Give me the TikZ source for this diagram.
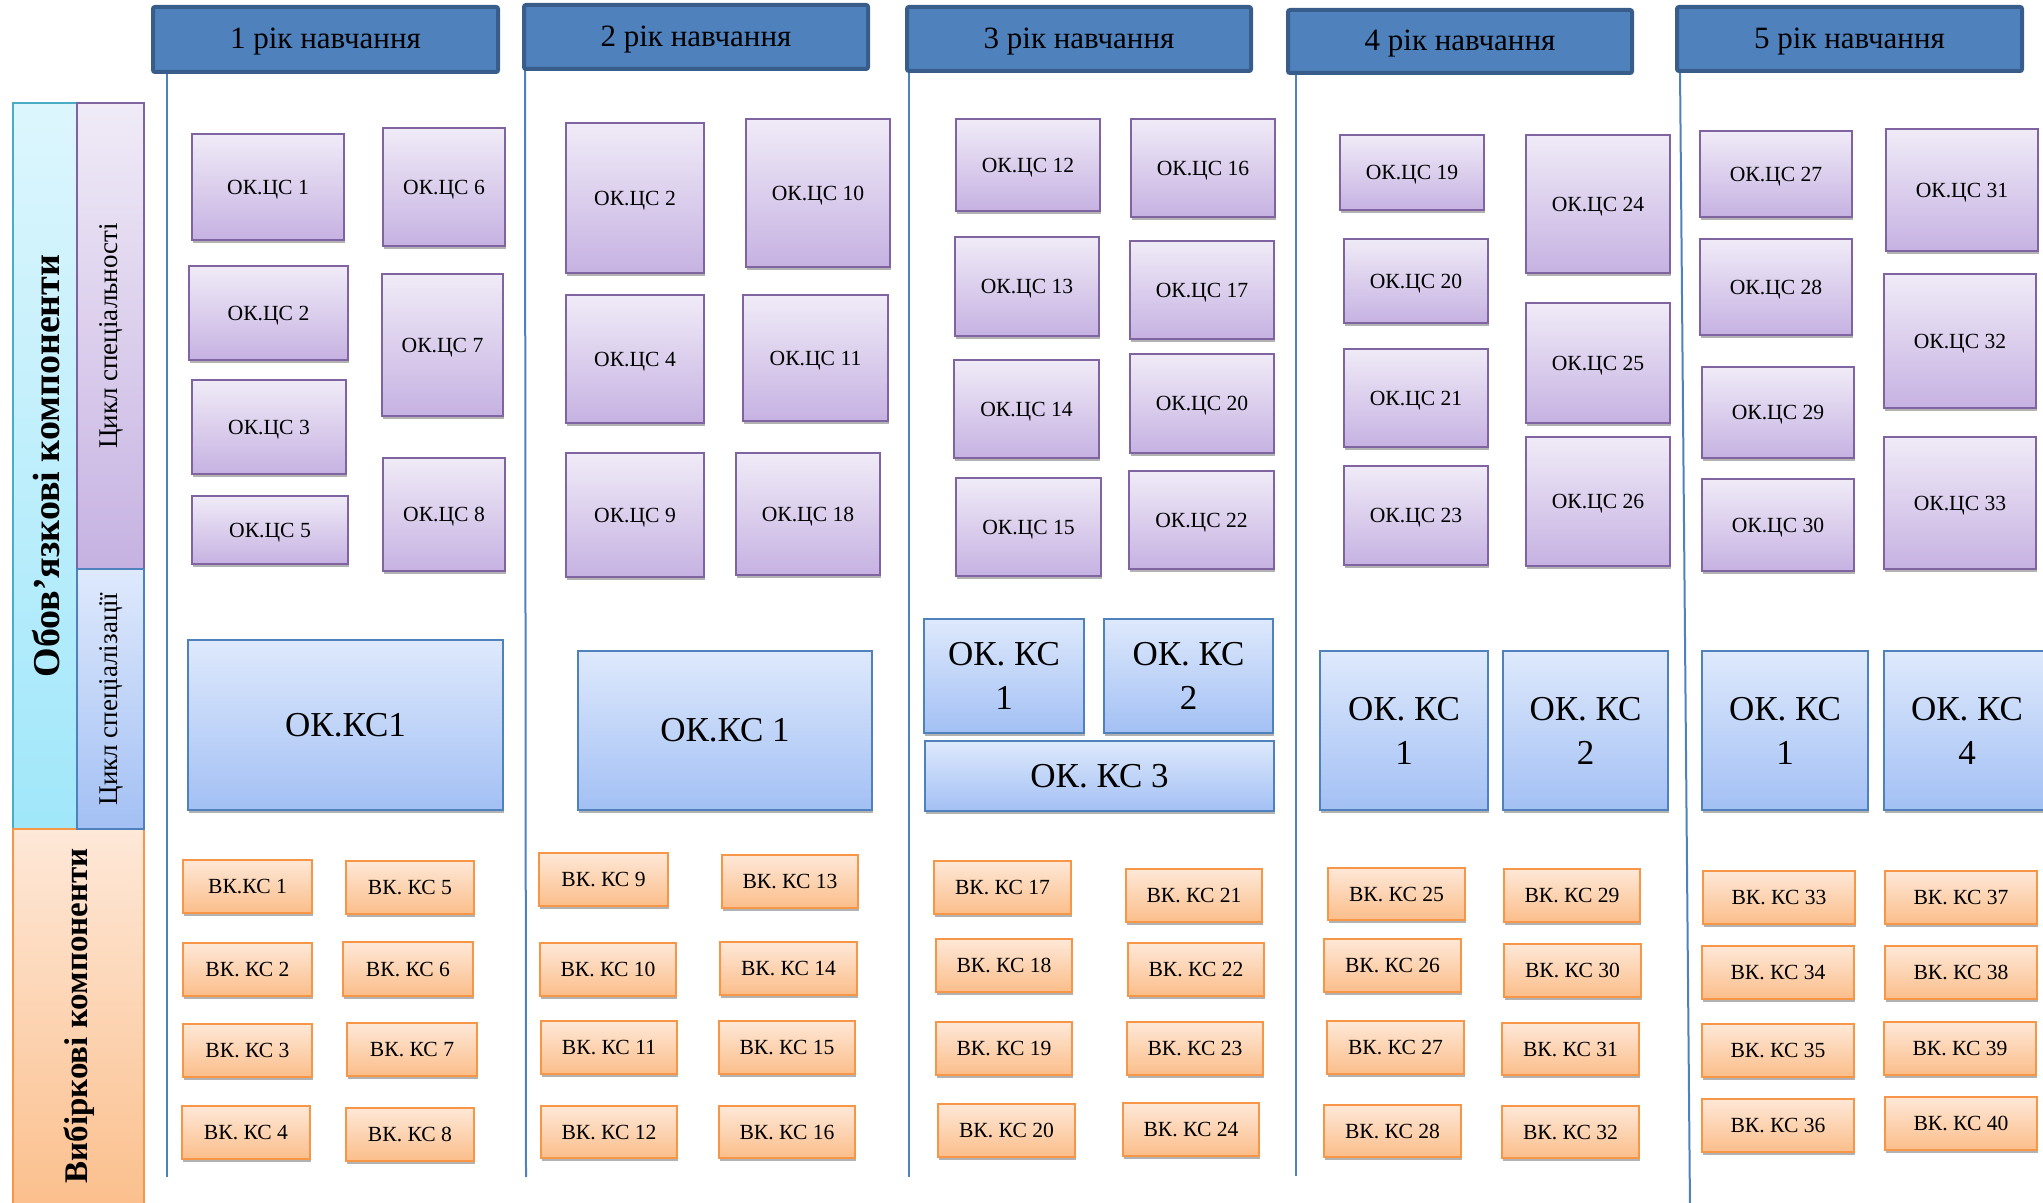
\documentclass[tikz,border=0pt]{standalone}
\usepackage{fontspec}
\setmainfont{Liberation Serif}
\usetikzlibrary{shadows}
\definecolor{purB}{HTML}{8064A2}
\definecolor{purT}{HTML}{F0EBF7}
\definecolor{purL}{HTML}{C6B2E2}
\definecolor{bluB}{HTML}{4F81BD}
\definecolor{bluT}{HTML}{DEE9FC}
\definecolor{bluL}{HTML}{A3C0F4}
\definecolor{orgB}{HTML}{F79646}
\definecolor{orgT}{HTML}{FEE8D8}
\definecolor{orgL}{HTML}{FBBE8A}
\definecolor{cyaB}{HTML}{4BACC6}
\definecolor{cyaT}{HTML}{DDF6FD}
\definecolor{cyaL}{HTML}{A0E7FA}
\definecolor{hdrF}{HTML}{4F81BD}
\definecolor{hdrB}{HTML}{385D8A}
\tikzset{
  rect/.style args={#1/#2/#3/#4}{minimum width={(#3-#1)*0.5pt}, minimum height={(#4-#2)*0.5pt},
    anchor=center, at={({(#1+#3)/2},{(#2+#4)/2})}},
  box/.style={draw, line width=1pt, inner sep=0pt,
    drop shadow={shadow xshift=0.6pt, shadow yshift=-1.6pt, opacity=0.3, fill=black}},
  capctr/.style={text height=0.85em, text depth=0.14em},
  okc/.style={box, capctr, draw=purB, top color=purT, bottom color=purL,
    font=\fontsize{10.8}{12}\selectfont},
  okk/.style={box, draw=bluB, top color=bluT, bottom color=bluL, align=center,
    font=\fontsize{17.5}{22}\selectfont},
  vk/.style={box, capctr, draw=orgB, top color=orgT, bottom color=orgL,
    font=\fontsize{10.8}{12}\selectfont},
  hdr/.style={text height=1.05em, text depth=0.14em, draw=hdrB, line width=2pt, fill=hdrF,
    rounded corners=1pt, inner sep=0pt, font=\fontsize{15.5}{18}\selectfont},
  vline/.style={draw=bluB, line width=1pt},
  side/.style={draw, line width=1pt, inner sep=0pt},
  sidetxt/.style={rotate=90, inner sep=0pt},
}
\begin{document}
\begin{tikzpicture}[x=0.5pt,y=-0.5pt]
\useasboundingbox (0,0) rectangle (2043,1203);
\clip (0,0) rectangle (2043,1203);

% vertical year lines
\coordinate (v1t) at (167,70);  \coordinate (v1b) at (167,1177);
\coordinate (v2t) at (525,68);  \coordinate (v2b) at (526,1177);
\coordinate (v3t) at (909,70);  \coordinate (v3b) at (909,1177);
\coordinate (v4t) at (1296,72); \coordinate (v4b) at (1296,1176);
\coordinate (v5t) at (1680,70); \coordinate (v5b) at (1690,1210);
\foreach \i in {1,...,5} {\draw[vline] (v\i t) -- (v\i b);}

% headers
\node[hdr, rect=153/7/498/72]    (h1) {1 рік навчання};
\node[hdr, rect=524/5/868/69]    (h2) {2 рік навчання};
\node[hdr, rect=907/7/1251/71]   (h3) {3 рік навчання};
\node[hdr, rect=1288/10/1632/73] (h4) {4 рік навчання};
\node[hdr, rect=1677/7/2022/71]  (h5) {5 рік навчання};

% left panel
\node[side, draw=cyaB, top color=cyaT, bottom color=cyaL, rect=13/103/144/829] (obov) {};
\node[side, draw=orgB, top color=orgT, bottom color=orgL, rect=13/829/144/1220] (vyb) {};
\node[side, draw=purB, top color=purT, bottom color=purL, rect=77/103/144/569] (cspec) {};
\node[side, draw=bluB, top color=bluT, bottom color=bluL, rect=77/569/144/829] (cspz) {};
\node[sidetxt, font=\fontsize{19}{22}\selectfont\bfseries] (tobov) at (46,466) {Обов’язкові компоненти};
\node[sidetxt, font=\fontsize{16.5}{20}\selectfont\bfseries] (tvyb) at (79,1016) {Вибіркові компоненти};
\node[sidetxt, font=\fontsize{13.5}{16}\selectfont] (tcspec) at (111,336) {Цикл спеціальності};
\node[sidetxt, font=\fontsize{13.5}{16}\selectfont] (tcspz) at (111,699) {Цикл спеціалізації};

% ---- year 1
\node[okc, rect=192/134/344/240] (a1) {ОК.ЦС 1};
\node[okc, rect=189/266/348/360] (a2) {ОК.ЦС 2};
\node[okc, rect=192/380/346/474] (a3) {ОК.ЦС 3};
\node[okc, rect=192/496/348/564] (a5) {ОК.ЦС 5};
\node[okc, rect=383/128/505/246] (a6) {ОК.ЦС 6};
\node[okc, rect=382/274/503/416] (a7) {ОК.ЦС 7};
\node[okc, rect=383/458/505/571] (a8) {ОК.ЦС 8};
\node[okk, rect=188/640/503/810] (k1a) {ОК.КС1};
\node[vk, rect=183/860/312/913]   (w1) {ВК.КС 1};
\node[vk, rect=183/943/312/996]   (w2) {ВК. КС 2};
\node[vk, rect=183/1024/312/1077] (w3) {ВК. КС 3};
\node[vk, rect=182/1106/310/1159] (w4) {ВК. КС 4};
\node[vk, rect=346/861/474/914]   (w5) {ВК. КС 5};
\node[vk, rect=343/942/473/996]   (w6) {ВК. КС 6};
\node[vk, rect=347/1023/477/1076] (w7) {ВК. КС 7};
\node[vk, rect=346/1108/474/1161] (w8) {ВК. КС 8};

% ---- year 2
\node[okc, rect=566/123/704/273] (b2) {ОК.ЦС 2};
\node[okc, rect=566/295/704/423] (b4) {ОК.ЦС 4};
\node[okc, rect=566/453/704/577] (b9) {ОК.ЦС 9};
\node[okc, rect=746/119/890/267] (b10) {ОК.ЦС 10};
\node[okc, rect=743/295/888/421] (b11) {ОК.ЦС 11};
\node[okc, rect=736/453/880/575] (b18) {ОК.ЦС 18};
\node[okk, rect=578/651/872/810] (k2a) {ОК.КС 1};
\node[vk, rect=539/853/668/906]   (w9) {ВК. КС 9};
\node[vk, rect=540/943/676/996]   (w10) {ВК. КС 10};
\node[vk, rect=541/1021/677/1074] (w11) {ВК. КС 11};
\node[vk, rect=541/1106/677/1158] (w12) {ВК. КС 12};
\node[vk, rect=722/855/858/908]   (w13) {ВК. КС 13};
\node[vk, rect=720/942/857/995]   (w14) {ВК. КС 14};
\node[vk, rect=719/1021/855/1074] (w15) {ВК. КС 15};
\node[vk, rect=719/1106/855/1158] (w16) {ВК. КС 16};

% ---- year 3
\node[okc, rect=956/119/1100/211]  (c12) {ОК.ЦС 12};
\node[okc, rect=955/237/1099/336]  (c13) {ОК.ЦС 13};
\node[okc, rect=954/360/1099/458]  (c14) {ОК.ЦС 14};
\node[okc, rect=956/478/1101/576]  (c15) {ОК.ЦС 15};
\node[okc, rect=1131/119/1275/217] (c16) {ОК.ЦС 16};
\node[okc, rect=1130/241/1274/339] (c17) {ОК.ЦС 17};
\node[okc, rect=1130/354/1274/453] (c20) {ОК.ЦС 20};
\node[okc, rect=1129/471/1274/569] (c22) {ОК.ЦС 22};
\node[okk, rect=924/619/1084/733]  (k3a) {ОК. КС\\1};
\node[okk, rect=1104/619/1273/733] (k3b) {ОК. КС\\2};
\node[okk, rect=925/741/1274/811]  (k3c) {ОК. КС 3};
\node[vk, rect=934/861/1071/914]    (w17) {ВК. КС 17};
\node[vk, rect=936/939/1072/992]    (w18) {ВК. КС 18};
\node[vk, rect=936/1022/1072/1075]  (w19) {ВК. КС 19};
\node[vk, rect=938/1104/1075/1157]  (w20) {ВК. КС 20};
\node[vk, rect=1126/869/1262/922]   (w21) {ВК. КС 21};
\node[vk, rect=1128/943/1264/996]   (w22) {ВК. КС 22};
\node[vk, rect=1127/1022/1263/1075] (w23) {ВК. КС 23};
\node[vk, rect=1123/1103/1259/1156] (w24) {ВК. КС 24};

% ---- year 4
\node[okc, rect=1340/135/1484/210] (d19) {ОК.ЦС 19};
\node[okc, rect=1344/239/1488/323] (d20) {ОК.ЦС 20};
\node[okc, rect=1344/349/1488/447] (d21) {ОК.ЦС 21};
\node[okc, rect=1344/466/1488/565] (d23) {ОК.ЦС 23};
\node[okc, rect=1526/135/1670/273] (d24) {ОК.ЦС 24};
\node[okc, rect=1526/303/1670/423] (d25) {ОК.ЦС 25};
\node[okc, rect=1526/437/1670/566] (d26) {ОК.ЦС 26};
\node[okk, rect=1320/651/1488/810] (k4a) {ОК. КС\\1};
\node[okk, rect=1503/651/1668/810] (k4b) {ОК. КС\\2};
\node[vk, rect=1328/868/1465/920]   (w25) {ВК. КС 25};
\node[vk, rect=1324/939/1461/992]   (w26) {ВК. КС 26};
\node[vk, rect=1327/1021/1464/1074] (w27) {ВК. КС 27};
\node[vk, rect=1324/1105/1461/1157] (w28) {ВК. КС 28};
\node[vk, rect=1504/869/1640/922]   (w29) {ВК. КС 29};
\node[vk, rect=1504/944/1641/997]   (w30) {ВК. КС 30};
\node[vk, rect=1502/1023/1639/1075] (w31) {ВК. КС 31};
\node[vk, rect=1502/1106/1639/1158] (w32) {ВК. КС 32};

% ---- year 5
\node[okc, rect=1700/131/1852/217] (e27) {ОК.ЦС 27};
\node[okc, rect=1700/239/1852/335] (e28) {ОК.ЦС 28};
\node[okc, rect=1702/367/1854/458] (e29) {ОК.ЦС 29};
\node[okc, rect=1702/479/1854/571] (e30) {ОК.ЦС 30};
\node[okc, rect=1886/129/2038/251] (e31) {ОК.ЦС 31};
\node[okc, rect=1884/274/2036/408] (e32) {ОК.ЦС 32};
\node[okc, rect=1884/437/2036/569] (e33) {ОК.ЦС 33};
\node[okk, rect=1702/651/1868/810] (k5a) {ОК. КС\\1};
\node[okk, rect=1884/651/2050/810] (k5b) {ОК. КС\\4};
\node[vk, rect=1703/871/1855/924]   (w33) {ВК. КС 33};
\node[vk, rect=1702/946/1854/999]   (w34) {ВК. КС 34};
\node[vk, rect=1702/1024/1854/1077] (w35) {ВК. КС 35};
\node[vk, rect=1702/1099/1854/1152] (w36) {ВК. КС 36};
\node[vk, rect=1885/871/2037/924]   (w37) {ВК. КС 37};
\node[vk, rect=1885/946/2037/999]   (w38) {ВК. КС 38};
\node[vk, rect=1884/1022/2036/1075] (w39) {ВК. КС 39};
\node[vk, rect=1885/1097/2037/1150] (w40) {ВК. КС 40};
\end{tikzpicture}
\end{document}
